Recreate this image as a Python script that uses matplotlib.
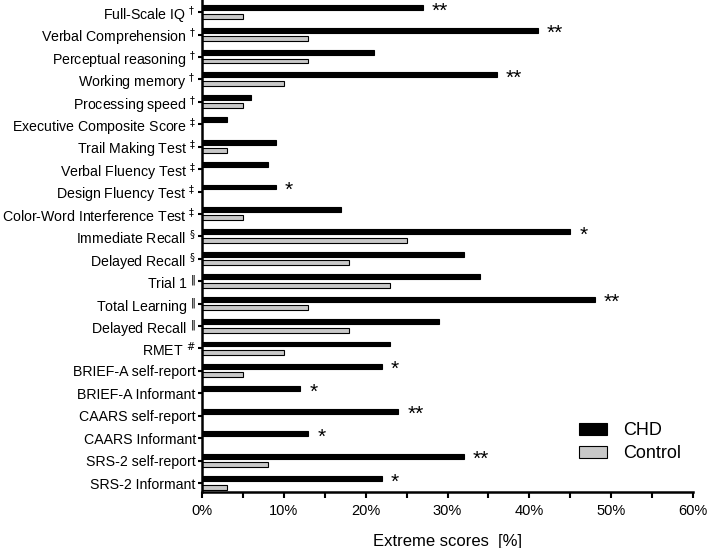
import matplotlib
matplotlib.use("Agg")
import matplotlib.pyplot as plt
from matplotlib.ticker import MultipleLocator, FuncFormatter
import numpy as np

plt.rcParams['font.family'] = ['Liberation Sans', 'DejaVu Sans']

categories = ["Full-Scale IQ", "Verbal Comprehension", "Perceptual reasoning", "Working memory",
              "Processing speed", "Executive Composite Score", "Trail Making Test",
              "Verbal Fluency Test", "Design Fluency Test", "Color-Word Interference Test",
              "Immediate Recall", "Delayed Recall", "Trial 1", "Total Learning", "Delayed Recall",
              "RMET", "BRIEF-A self-report", "BRIEF-A Informant", "CAARS self-report",
              "CAARS Informant", "SRS-2 self-report", "SRS-2 Informant"]
marks = [r"\dagger"] * 5 + [r"\ddagger"] * 5 + [r"\S"] * 2 + [r"\Vert"] * 3 + [r"\#"] + [""] * 6
chd = [27, 41, 21, 36, 6, 3, 9, 8, 9, 17, 45, 32, 34, 48, 29, 23, 22, 12, 24, 13, 32, 22]
control = [5, 13, 13, 10, 5, 0, 3, 0, 0, 5, 25, 18, 23, 13, 18, 10, 5, 0, 0, 0, 8, 3]
signif = ["**", "**", "", "**", "", "", "", "", "*", "", "*", "", "", "**", "", "", "*", "*",
          "**", "*", "**", "*"]

fig = plt.figure(figsize=(7.09, 5.48), dpi=100)
ax = fig.add_axes([0.285, 0.1022, 0.6925, 0.8978])

y = np.arange(len(categories))
ax.barh(y - 0.2, chd, height=0.22, color="black", edgecolor="black", linewidth=0.8, label="CHD")
ctrl_y = [yy for yy, v in zip(y, control) if v > 0]
ctrl_v = [v for v in control if v > 0]
ax.barh(np.array(ctrl_y) + 0.18, ctrl_v, height=0.22, color="#c8c8c8", edgecolor="black",
        linewidth=0.8, label="Control")

for yy, v, s in zip(y, chd, signif):
    if s:
        ax.text(v + 1.1, yy - 0.05, s, ha="left", va="center", fontsize=15)

labels = [f"{c} $^{{{m}}}$" if m else c for c, m in zip(categories, marks)]
ax.set_yticks(y)
ax.set_yticklabels(labels, fontsize=10.2)
ax.set_ylim(21.4, -0.54)
ax.set_xlim(0, 60)
ax.xaxis.set_major_locator(MultipleLocator(10))
ax.xaxis.set_minor_locator(MultipleLocator(5))
ax.xaxis.set_major_formatter(FuncFormatter(lambda v, p: f"{int(v)}%"))
ax.tick_params(axis="x", which="both", length=4, width=1.5, labelsize=10.5, pad=5)
ax.tick_params(axis="y", length=3, width=1.5, pad=1.5)

for s in ["top", "right"]:
    ax.spines[s].set_visible(False)
for s in ["left", "bottom"]:
    ax.spines[s].set_linewidth(1.8)

ax.set_xlabel("Extreme scores  [%]", fontsize=12, labelpad=11)

ax.legend(loc="lower right", bbox_to_anchor=(0.975, 0.06), frameon=False, fontsize=13,
          handlelength=1.55, handleheight=0.6, labelspacing=0.35, handletextpad=0.85,
          borderpad=0, borderaxespad=0)

fig.savefig("out.png", dpi=100)
